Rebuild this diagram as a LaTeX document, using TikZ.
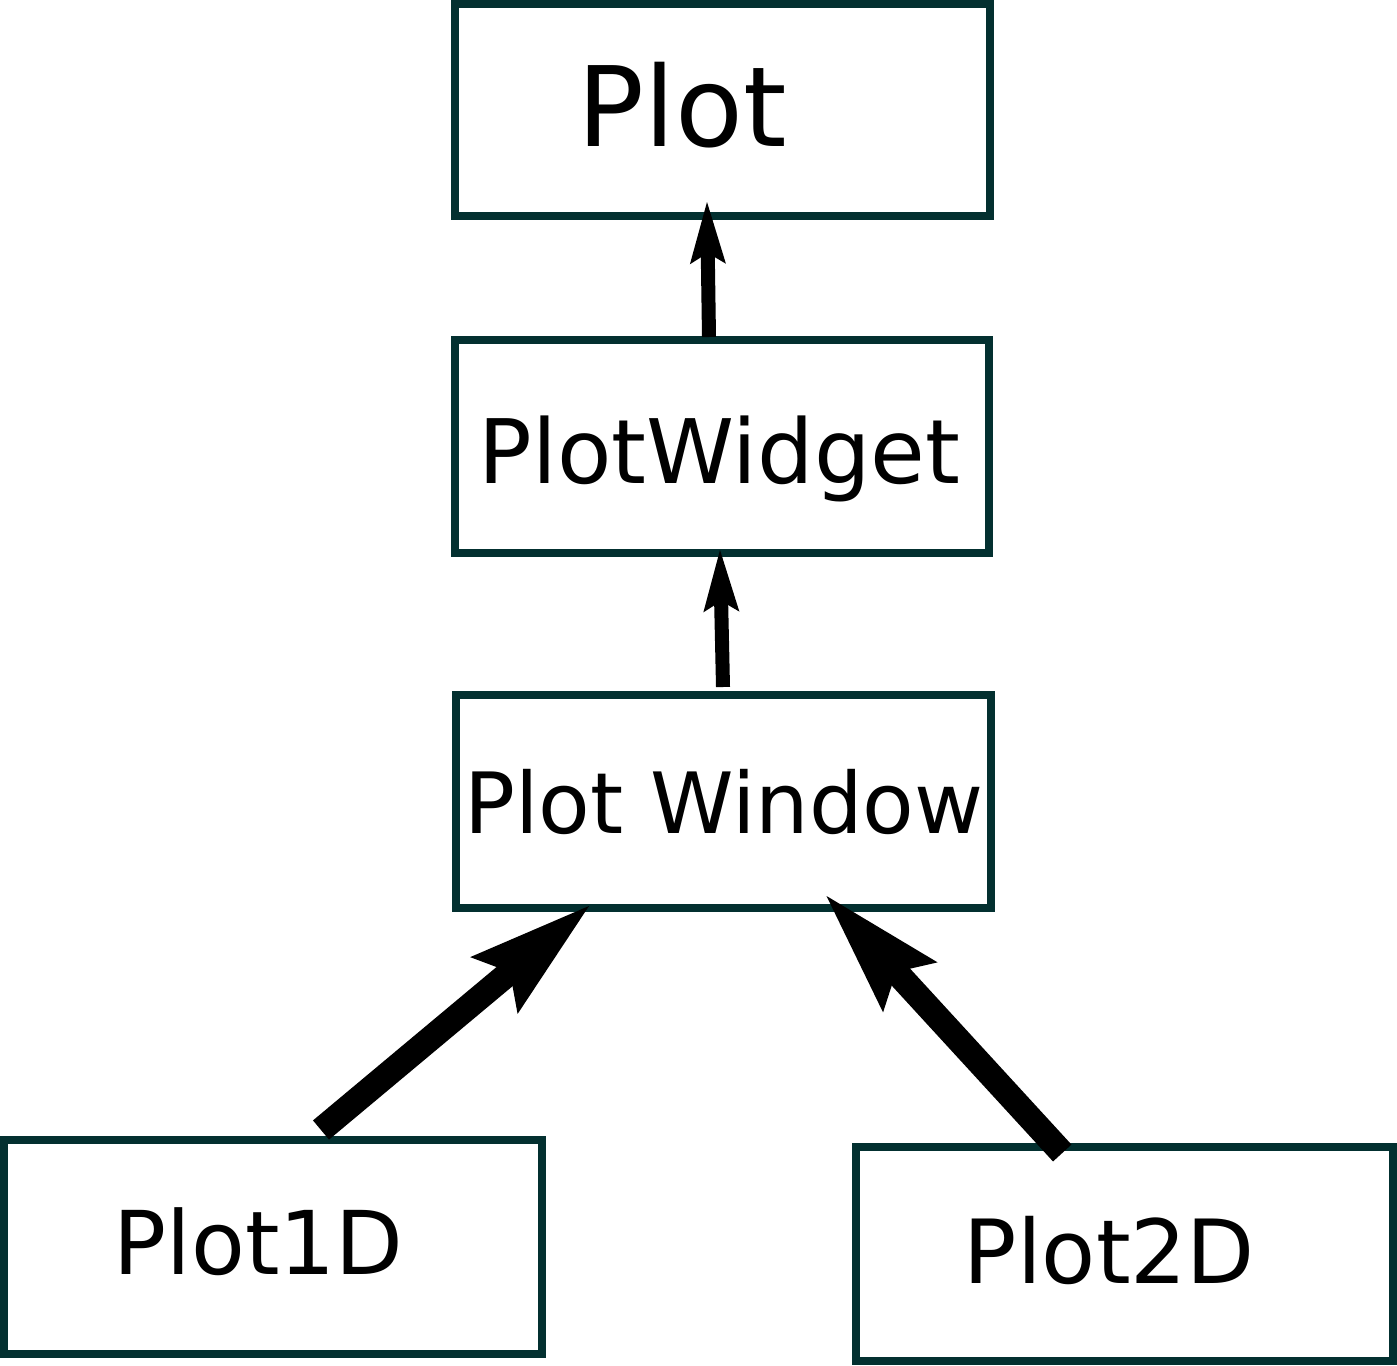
\documentclass[tikz,border=0pt]{standalone}
\usepackage{fontspec}
\setmainfont{DejaVu Sans}
\usetikzlibrary{arrows.meta}
\definecolor{boxc}{RGB}{3,48,48}
\begin{document}
\begin{tikzpicture}[x=1pt,y=-1pt,
  box/.style={draw=boxc,line width=8pt,fill=none,inner sep=0pt,outer sep=0pt,
    minimum width=#1},
  lbl/.style={anchor=base,inner sep=0pt,outer sep=0pt,text=black},
  thinarr/.style={line width=14pt,-{Stealth[length=62pt,width=36pt,inset=11pt,line width=0pt]}},
  thickarr/.style={line width=25pt,-{Stealth[length=124pt,width=74pt,inset=21pt,line width=0pt]}}
]
\useasboundingbox (0,0) rectangle (1397,1365);
\fill[white] (0,0) rectangle (1397,1365);

% boxes
\node[box=535pt,minimum height=212pt] (plot) at (722.5,110) {};
\node[box=534pt,minimum height=213pt] (pw) at (722,446.5) {};
\node[box=535pt,minimum height=213.5pt] (pwin) at (723.5,801.25) {};
\node[box=538pt,minimum height=213.5pt] (p1) at (273,1246.75) {};
\node[box=537.5pt,minimum height=214pt] (p2) at (1124.25,1254) {};

% labels
\node[lbl,font=\fontsize{111}{120}\selectfont] (tplot) at (682,146.7) {Plot};
\node[lbl,font=\fontsize{89}{100}\selectfont] (tpw) at (719.5,483) {PlotWidget};
\node[lbl,font=\fontsize{84.5}{95}\selectfont] (tpwin) at (724,833) {Plot Window};
\node[lbl,font=\fontsize{88}{100}\selectfont] (tp1) at (258.5,1274) {Plot1D};
\node[lbl,font=\fontsize{88.5}{100}\selectfont] (tp2) at (1109.5,1283) {Plot2D};

% connectors
\draw[thinarr] ([xshift=-13pt,yshift=3pt]pw.north) -- ([xshift=-15.5pt,yshift=14pt]plot.south);
\draw[thinarr] ([xshift=-0.5pt,yshift=7.5pt]pwin.north) -- ([xshift=-2pt,yshift=3pt]pw.south);
\draw[thickarr] ([xshift=48pt,yshift=10pt]p1.north) -- ([xshift=-134.5pt,yshift=2pt]pwin.south);
\draw[thickarr] ([xshift=-62pt,yshift=-6pt]p2.north) -- ([xshift=103pt,yshift=12pt]pwin.south);
\end{tikzpicture}
\end{document}
